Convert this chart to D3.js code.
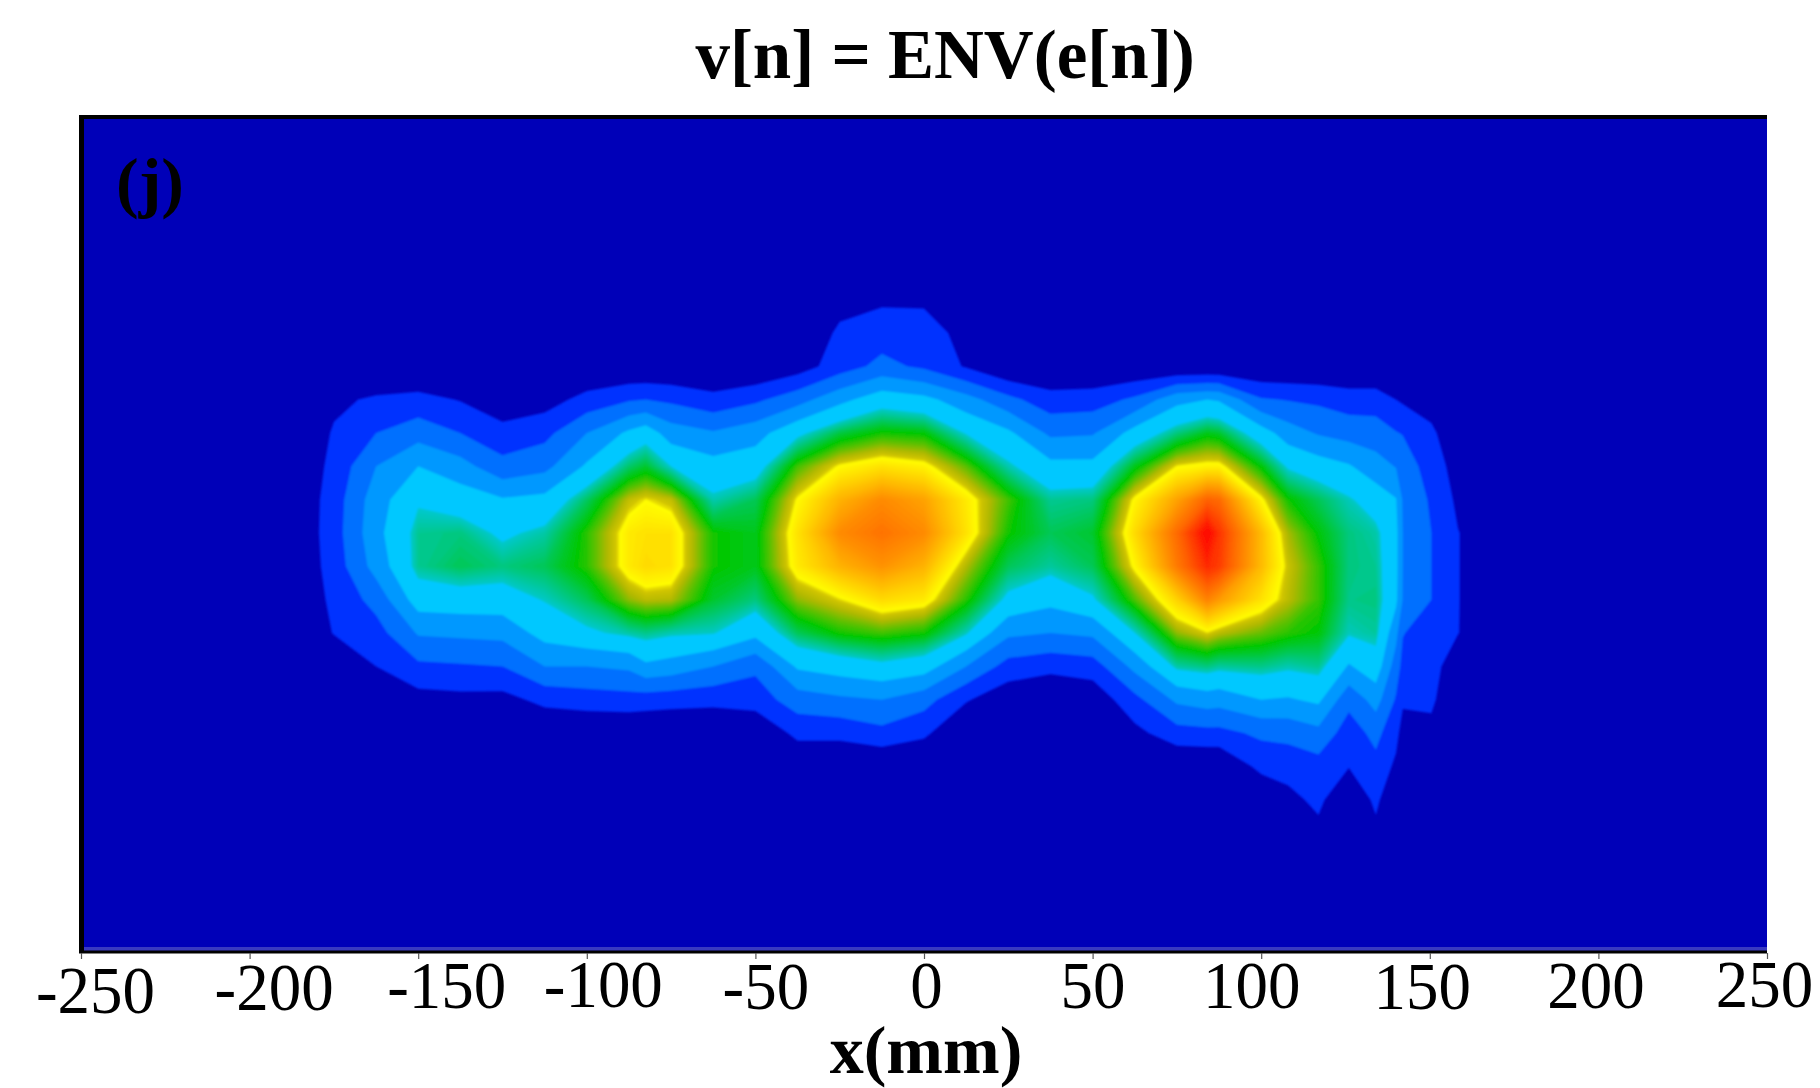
<!DOCTYPE html>
<html>
<head>
<meta charset="utf-8">
<script src="https://cdn.jsdelivr.net/npm/d3@7"></script>
<style>
html,body{margin:0;padding:0;background:#fff;}
svg{display:block;}
text{font-family:"Liberation Serif","Times New Roman",serif;fill:#000;}
</style>
</head>
<body>
<svg id="chart" width="1820" height="1088"></svg>
<script>
// ---------- data ----------
const chartTitle = "v[n] = ENV(e[n])";
const xLabel = "x(mm)";
const panelLabel = "(j)";
const xTicks = [-250,-200,-150,-100,-50,0,50,100,150,200,250];

// sampled positions (mm)
const xCols = [-187.5,-175,-162.5,-150,-137.5,-125,-112.5,-100,-87.5,-82.5,-75,-62.5,-50,-37.5,-25,-12.5,0,12.5,25,37.5,50,62.5,75,84,87.5,100,108,117,126,134,140,142,150.5,158.4,175];
const yRows = [80,70,60,50,40,30,20,10,0,-10,-20,-30,-40,-50,-60,-70,-80,-90];

// amplitude level per sampled x position, one value per yRows entry
const a00 = [0,0,0,0,0,0,0,0,0,0,0,0,0,0,0,0,0,0];
const a01 = [0,0,0,0,.8,1.1,1.3,1.5,1.55,1.45,1.25,1.05,.2,0,0,0,0,0];
const a02 = [0,0,0,0,1.15,2,3,3.55,3.7,3.4,2.35,1.6,1,0,0,0,0,0];
const a03 = [0,0,0,0,1.3,2.6,4,4.9,5.3,5.3,4.5,3.1,1.8,.6,0,0,0,0];
const a04 = [0,0,0,0,.95,2,3.4,4.55,5.4,5.6,4.6,3.2,1.9,.7,0,0,0,0];
const a05 = [0,0,0,0,.2,1.4,2.3,4.1,4.85,5.4,4.6,3.3,2,.65,0,0,0,0];
const a06 = [0,0,0,0,.55,1.7,2.7,4.3,5.2,5.6,5.05,4.4,3,1.3,0,0,0,0];
const a07 = [0,0,0,0,1.35,3,4.15,5.55,6.2,6.2,5.6,4.85,3,1.5,0,0,0,0];
const a08 = [0,0,0,0,1.9,4.2,5.5,6.85,7.3,7.3,6.6,5.2,3.2,1.6,0,0,0,0];
const a09 = [0,0,0,0,2,4.6,5.8,7.05,7.4,7.5,6.8,5.35,3.8,1.5,0,0,0,0];
const a10 = [0,0,0,0,1.8,3.5,5,6.85,7.4,7.4,6.75,5.15,3.6,1.4,0,0,0,0];
const a11 = [0,0,0,0,1.3,3.1,4.4,5.15,6.1,6.1,5.8,5.05,3,1.3,0,0,0,0];
const a12 = [0,0,0,0,1.8,3.6,4.6,5.6,5.9,5.9,5.4,4.3,2.2,1.5,0,0,0,0];
const a13 = [0,0,0,.5,2.6,4.8,6.3,7.1,7.4,7.3,6.6,5.6,4.15,2.5,1.3,0,0,0];
const a14 = [0,.6,1.2,1.5,3.7,5.7,7.1,8,8.5,8,7,6.1,4.5,2.8,1.3,0,0,0];
const a15 = [0,.85,1.5,2.3,4.6,6.1,7.4,8.5,8.8,8.4,7.5,6.3,4.8,3,1.7,0,0,0];
const a16 = [0,.85,1.4,1.8,4.3,6,7.2,8.2,8.5,8,7.3,6.1,4.5,2.4,1.2,0,0,0];
const a17 = [0,0,.7,.9,3.4,4.95,6.4,7.3,7.4,6.75,6.2,5.1,3,1.1,0,0,0,0];
const a18 = [0,0,0,0,2.3,4.2,5.15,6.3,6.1,5.6,4.8,3.2,1.6,.3,0,0,0,0];
const a19 = [0,0,0,0,1.4,2.8,4.3,5.3,5.6,5.25,4.3,3,1.3,0,0,0,0,0];
const a20 = [0,0,0,0,1.5,2.9,4.3,5.4,5.8,5.6,4.9,3.2,1.5,.3,0,0,0,0];
const a21 = [0,0,0,0,2.2,4.4,5.9,7.15,7.5,7.15,6.35,5,3.3,1.7,.7,0,0,0];
const a22 = [0,0,0,0,3.7,5.4,7.05,8.2,8.9,8.7,7.6,6.6,5.2,3.2,1.6,0,0,0];
const a23 = [0,0,0,0,4,5.9,7.2,9,10,9.6,8.6,7,5.4,3.5,1.7,0,0,0];
const a24 = [0,0,0,0,3.9,5.8,7.2,8.9,9.5,9.4,8.3,6.8,5.25,3.4,1.7,0,0,0];
const a25 = [0,0,0,0,2.1,4.5,6,7.15,7.9,7.9,7.4,6.45,5.35,4,2.2,1.3,0,0];
const a26 = [0,0,0,0,1.95,3.5,4.9,6.1,6.7,6.9,6.8,6.2,5.15,3.9,2.3,1.4,.7,0];
const a27 = [0,0,0,0,1.8,2.9,4.5,5.6,6,6.25,6.25,6,5.3,4.2,2.7,1.6,1.25,.7];
const a28 = [0,0,0,0,1.5,2.6,4.1,5.1,5.4,5.4,5.35,5.1,3.9,2.3,1.5,1.05,0,0];
const a29 = [0,0,0,0,1.5,2.5,3.4,4.6,5.2,5.3,5.4,5.25,4.6,3.4,2.3,1.7,1.25,.7];
const a30 = [0,0,0,0,1,2.05,2.95,4.05,4.3,4.3,4.2,3.3,2.5,1.9,1.3,.8,0,0];
const a31 = [0,0,0,0,.85,1.95,2.6,2.9,3,3,2.95,2.05,1.7,1.15,.6,0,0,0];
const a32 = [0,0,0,0,.4,1.25,1.5,1.85,2,2,2,1.45,1.3,1.2,.7,0,0,0];
const a33 = [0,0,0,0,0,0,.6,.8,1.03,1.03,1.03,1.02,.5,0,0,0,0,0];
const a34 = [0,0,0,0,0,0,0,0,0,0,0,0,0,0,0,0,0,0];

const columns = [a00,a01,a02,a03,a04,a05,a06,a07,a08,a09,a10,a11,a12,a13,a14,a15,a16,a17,
                 a18,a19,a20,a21,a22,a23,a24,a25,a26,a27,a28,a29,a30,a31,a32,a33,a34];

// colour levels
const bandLevels = [1,2,3,4];
const bandColors = ["#0030ff","#0070ff","#0098ff","#00c8ff"];
const rampLevels = [5,6,6.4,6.7,6.97,7,7.5,8,9,10];
const rampColors = ["#00c8c8","#00c800","#60c000","#b0b800","#d8c800","#ffff00","#ffd800","#ffb000","#ff6000","#ff0000"];
const backgroundColor = "#0000b8";

// ---------- layout ----------
const W = 1820, H = 1088;
const plot = {left:81, right:1767, top:116, bottom:950};
const tickNudgeX = [14,24,28,16,10,2,0,-10,-8,-3,-3];
const tickBaselines = [1013,1010,1008,1007,1009,1008,1008,1008,1009,1008,1007];

const svg = d3.select("#chart");
const x = d3.scaleLinear().domain([-250,250]).range([plot.left,plot.right]);
const y = d3.scaleLinear().domain([125,-125]).range([plot.top,plot.bottom]);

const defs = svg.append("defs");
defs.append("clipPath").attr("id","plotClip").append("rect")
  .attr("x",plot.left).attr("y",plot.top)
  .attr("width",plot.right-plot.left).attr("height",plot.bottom-plot.top);
const blur = defs.append("filter").attr("id","soft")
  .attr("filterUnits","userSpaceOnUse").attr("x",0).attr("y",0).attr("width",W).attr("height",H);
blur.append("feGaussianBlur").attr("stdDeviation",1.2);

svg.append("rect").attr("x",plot.left).attr("y",plot.top)
  .attr("width",plot.right-plot.left).attr("height",plot.bottom-plot.top)
  .attr("fill",backgroundColor);

// ---------- contours ----------
const nx = columns.length, ny = columns[0].length;
const values = new Array(nx*ny);
columns.forEach((c,i)=>c.forEach((v,j)=>{values[i+j*nx]=v;}));

const ramp = d3.scaleLinear().domain(rampLevels).range(rampColors).interpolate(d3.interpolateRgb);
const fineLevels = d3.range(5,10.0001,0.06);
const thresholds = bandLevels.concat(fineLevels);
const colorOf = t => {
  const k = bandLevels.indexOf(t);
  return k>=0 ? bandColors[k] : ramp(t);
};

const contourGen = d3.contours().size([nx,ny]).smooth(true).thresholds(thresholds);
const colAt = d3.scaleLinear().domain(xCols.map((_,i)=>i+0.5)).range(xCols);
const rowAt = d3.scaleLinear().domain(yRows.map((_,i)=>i+0.5)).range(yRows);
const projection = d3.geoTransform({
  point(cx,cy){ this.stream.point(x(colAt(cx)), y(rowAt(cy))); }
});
const path = d3.geoPath(projection);

svg.append("g").attr("clip-path","url(#plotClip)")
  .append("g").attr("filter","url(#soft)")
  .selectAll("path").data(contourGen(values)).join("path")
  .attr("d",path).attr("fill",d=>colorOf(d.value)).attr("stroke","none");

// ---------- frame ----------
svg.append("rect").attr("x",79).attr("y",115).attr("width",1688).attr("height",4).attr("fill","#000");
svg.append("rect").attr("x",79).attr("y",115).attr("width",5).attr("height",838).attr("fill","#000");
svg.append("rect").attr("x",84).attr("y",947).attr("width",1683).attr("height",4).attr("fill","#3a3ac0");
svg.append("rect").attr("x",79).attr("y",950.5).attr("width",1688).attr("height",3).attr("fill","#000");

// ---------- axis ----------
const axis = d3.axisBottom(x).tickValues(xTicks).tickSize(6).tickPadding(0).tickFormat(d=>String(d));
const gx = svg.append("g").attr("transform",`translate(0,953)`).call(axis);
gx.select(".domain").remove();
gx.selectAll(".tick line").attr("stroke","#555").attr("stroke-width",1.2);
gx.selectAll(".tick text")
  .attr("dy",null).attr("y",null)
  .attr("text-anchor","middle")
  .style("font-family",'"Liberation Serif",serif')
  .style("font-size","67px")
  .attr("fill","#000")
  .attr("transform",(d,i)=>`translate(${tickNudgeX[i]},${tickBaselines[i]-953}) scale(0.97,1)`);

// ---------- texts ----------
svg.append("text").attr("x",945).attr("y",78).attr("text-anchor","middle")
  .attr("font-weight","bold").attr("font-size",69).text(chartTitle);
svg.append("text").attr("x",926).attr("y",1073).attr("text-anchor","middle")
  .attr("font-weight","bold").attr("font-size",68).text(xLabel);
svg.append("text").attr("x",116).attr("y",205)
  .attr("font-weight","bold").attr("font-size",68).text(panelLabel);
</script>
</body>
</html>
